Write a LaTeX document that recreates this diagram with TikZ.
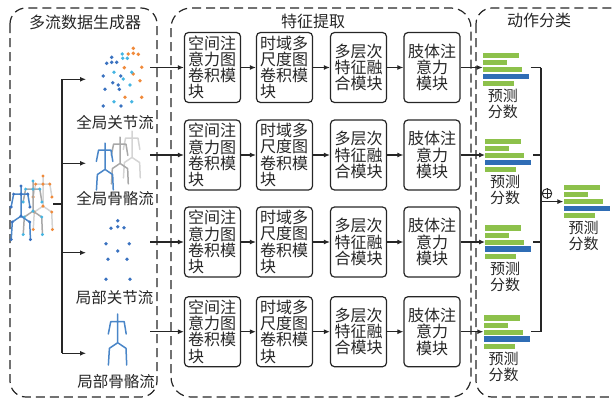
\documentclass[tikz,border=0pt]{standalone}
\usepackage{fontspec}
\newfontfamily\cjk{Noto Sans CJK SC}
\usetikzlibrary{arrows.meta}

\definecolor{ink}{HTML}{262626}
\definecolor{barG}{HTML}{8DC14B}
\definecolor{barB}{HTML}{2F6DB5}
\definecolor{skBlue}{HTML}{4A86C8}
\definecolor{skGray}{HTML}{A8A8A8}
\definecolor{skLight}{HTML}{D4D4D4}
\definecolor{dotBlue}{HTML}{3A72C0}
\definecolor{dotCyan}{HTML}{45B5E2}
\definecolor{dotOrange}{HTML}{F08A3A}

\tikzset{
  group/.style={draw=ink, line width=1.2pt, dash pattern=on 9pt off 5pt},
  grouptitle/.style={text=ink, font=\cjk\fontsize{16}{16}\selectfont, inner sep=0pt},
  module/.style={draw=ink, line width=1.2pt, rounded corners=4pt,
    minimum width=56pt, minimum height=70pt, inner sep=0pt, text=ink,
    font=\cjk\fontsize{16}{16.2}\selectfont},
  leftmod/.style={module, align=left, text width=49pt},
  centermod/.style={module, align=center},
  streamlabel/.style={text=ink, font=\cjk\fontsize{15.5}{15.5}\selectfont, inner sep=0pt},
  wire/.style={draw=ink, line width=1.1pt},
  arrow/.style={wire, -{Latex[length=6pt,width=5pt]}},
  barg/.style={fill=barG, minimum height=5.4pt, inner sep=0pt, anchor=north west},
  barb/.style={fill=barB, minimum height=5.8pt, inner sep=0pt, anchor=north west},
  scorelabel/.style={text=ink, font=\cjk\fontsize{15}{16}\selectfont, align=left, inner sep=0pt, anchor=north west},
  % a stack of five score bars with its caption
  pics/scores/.style={code={
    \node[barg, minimum width=36pt] (-g1) at (0,0) {};
    \node[barg, minimum width=24pt] (-g2) at (0,7.3) {};
    \node[barg, minimum width=39pt] (-g3) at (0,14.4) {};
    \node[barb, minimum width=46pt] (-b)  at (0,21) {};
    \node[barg, minimum width=31pt] (-g4) at (0,28.4) {};
    \coordinate (-out) at (48,17);
    \node[scorelabel] (-t) at (5,36.5) {预测\\分数};
  }},
  % stick figure, head top at the origin
  pics/skel/.style={code={
    \draw[pic actions, line width=1.5pt, line join=round, line cap=round]
      (0,0) -- (0,28.7) -- (-8.3,34.3) -- (-9.3,51)
      (0,28.7) -- (8.3,34.3) -- (9,51)
      (-9.4,20) -- (-7,7.7) -- (6.5,7.7) -- (8.5,20);
  }},
  pics/joints/.style={code={
    \foreach \p in {(0,0),(0,7.7),(-7,7.7),(6.5,7.7),(-9.4,20),(8.5,20),
                    (0,28.7),(-8.3,34.3),(8.3,34.3),(-9.3,51),(9,51)}
      \fill[pic actions] \p circle[radius=1.6];
  }},
  jdot/.style={radius=1.9},
  fusion/.style={draw=ink, circle, line width=0.9pt, minimum size=9.5pt, inner sep=0pt},
}

\begin{document}
\begin{tikzpicture}[x=1pt, y=-1pt]
\useasboundingbox (0,0) rectangle (612,399);
\clip (0,0) rectangle (612,399);

% ---- group frames ----
\draw[group, rounded corners=16pt] (10,8) rectangle (157,397);
\draw[group, rounded corners=20pt] (171,8) rectangle (471,397);
\draw[group, rounded corners=16pt] (476,8) rectangle (628,397);
\node[grouptitle] (t1) at (85,22) {多流数据生成器};
\node[grouptitle] (t2) at (313,21) {特征提取};
\node[grouptitle] (t3) at (539,20) {动作分类};

% ---- input skeleton sequence ----
\pic[draw=skLight, scale=1.05] at (43,176) {skel};
\pic[fill=dotOrange, scale=1.05] at (43,176) {joints};
\pic[draw=skGray, scale=1.05] at (33,181) {skel};
\pic[fill=dotCyan, scale=1.05] at (33,181) {joints};
\pic[draw=skBlue, scale=1.05] at (21,186) {skel};
\pic[fill=dotBlue, scale=1.05] at (21,186) {joints};
\coordinate (src) at (53,204);
\coordinate (fork) at (62,204);

% ---- four streams ----
% global joints
\foreach \p in {(133.3,48.3),(128.3,54),(133.3,53.3),(138.3,54.3),(124.3,67.7),(141.7,67.3),
                (133.3,74),(140,80.7),(125,97.3),(141.7,97.3)}
  \fill[dotOrange] \p circle[jdot];
\foreach \p in {(122.3,54),(122.7,58.3),(127.3,58.3),(114,72.3),(131.7,72.3),(123.3,79),
                (130,85),(114,101.7),(131.7,101.7)}
  \fill[dotCyan] \p circle[jdot];
\foreach \p in {(111.7,57.3),(106.7,63.3),(111.7,62.3),(116.7,62.3),(103.3,76),(120.7,76),
                (112.7,82.7),(118.3,85),(105,89.3),(119.3,89.3),(103.3,106),(121,106)}
  \fill[dotBlue] \p circle[jdot];
% global bones
\pic[draw=skLight, scale=0.92] at (132,131) {skel};
\pic[draw=skGray, scale=0.92] at (120,137) {skel};
\pic[draw=skBlue, scale=0.92] at (105,143) {skel};
% local joints
\foreach \p in {(117.7,220.7),(111,228.3),(117.7,226.7),(124,227.7),(106,243.7),(129.3,243.7),
                (117.7,251),(108,259.3),(127,259.3),(106,279.3),(130,279.3)}
  \fill[dotBlue] \p circle[jdot];
% local bones
\pic[draw=skBlue] at (117.7,314) {skel};

\node[streamlabel] (l1) at (115,123) {全局关节流};
\node[streamlabel] (l2) at (115,199) {全局骨骼流};
\node[streamlabel] (l3) at (114.5,298) {局部关节流};
\node[streamlabel] (l4) at (116,382) {局部骨骼流};

\coordinate (s1) at (86,79.3);
\coordinate (s2) at (86,163.3);
\coordinate (s3) at (86,252.7);
\coordinate (s4) at (86,353.3);

\draw[wire] (src) -- (fork);
\draw[wire] (fork |- s1) -- (fork |- s4);
\foreach \s in {s1,s2,s3,s4}
  \draw[arrow] (fork |- \s) -- (\s);

% ---- feature extraction rows ----
\foreach \r/\y in {1/67.5, 2/155, 3/242, 4/331.7}{
  \node[leftmod]   (r\r c1) at (212.5,\y) {空间注\\意力图\\卷积模\\块};
  \node[leftmod]   (r\r c2) at (284.5,\y) {时域多\\尺度图\\卷积模\\块};
  \node[centermod] (r\r c3) at (358.5,\y) {多层次\\特征融\\合模块};
  \node[centermod] (r\r c4) at (432,\y)   {肢体注\\意力\\模块};
  \coordinate (o\r) at (150,\y);
  \draw[arrow] (o\r) -- (r\r c1.west);
  \draw[arrow] (r\r c1) -- (r\r c2);
  \draw[arrow] (r\r c2) -- (r\r c3);
  \draw[arrow] (r\r c3) -- (r\r c4);
}

% ---- score stacks ----
\pic (p1) at (482.7,52.3) {scores};
\pic (p2) at (485,138.3) {scores};
\pic (p3) at (485,225) {scores};
\pic (p4) at (483.3,315) {scores};
\pic (pf) at (563.3,184.3) {scores};

\foreach \r in {1,2,3,4}
  \draw[arrow] (r\r c4.east) -- (r\r c4.east -| p\r-g3.west);

% ---- fusion ----
\coordinate (mx) at (541,0);
\foreach \r in {1,2,3,4}
  \draw[wire] (p\r-out |- r\r c4) -- (mx |- r\r c4);
\draw[wire] (mx |- r1c4) -- (mx |- r4c4);
\draw[arrow] (mx |- pf-g3) -- (pf-g3.west);
\node[fusion] (plus) at (547,193.5) {};
\draw[ink, line width=0.9pt] (plus.north) -- (plus.south) (plus.west) -- (plus.east);

\end{tikzpicture}
\end{document}
